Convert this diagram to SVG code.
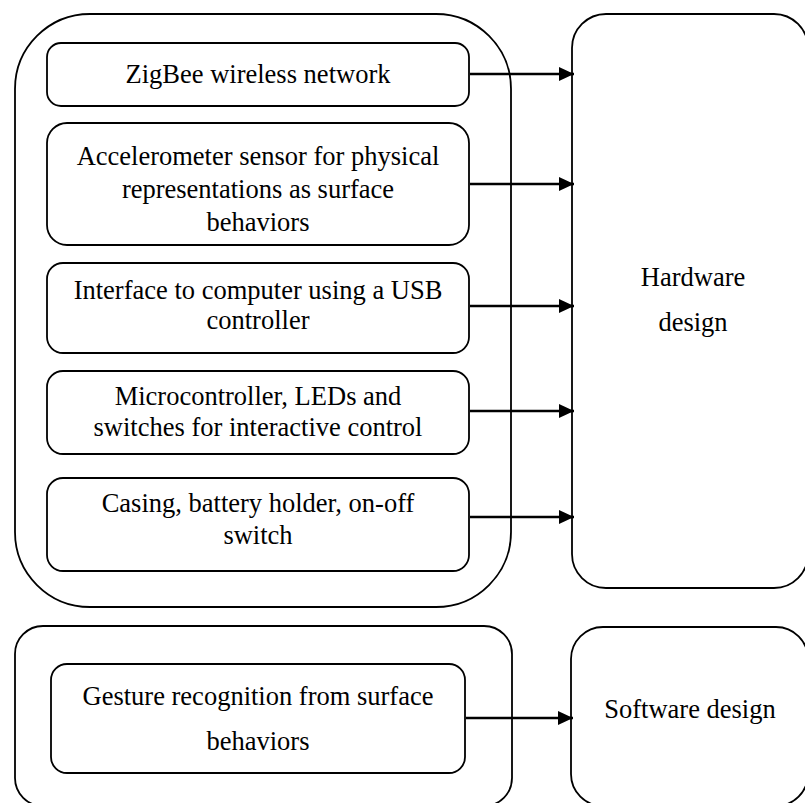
<svg xmlns="http://www.w3.org/2000/svg" width="805" height="803" viewBox="0 0 805 803">
  <style>
    .frame { fill: none; stroke: #000; stroke-width: 1.8; }
    .box { fill: #fff; stroke: #000; stroke-width: 1.8; }
    .label { font-family: "Liberation Serif", "Times New Roman", serif; font-size: 26.5px; fill: #000; text-anchor: middle; }
    .link { stroke: #000; stroke-width: 2.6; fill: none; marker-end: url(#head); }
  </style>
  <defs>
    <marker id="head" markerUnits="userSpaceOnUse" markerWidth="16" markerHeight="16" viewBox="0 0 16 16" refX="15" refY="8" orient="auto">
      <path d="M0,1 L15,8 L0,15 Z" fill="#000"/>
    </marker>
  </defs>

  <!-- outer groupings -->
  <g id="hardware-group">
    <rect class="frame" x="15" y="14" width="496" height="593" rx="75" ry="75"/>
  </g>
  <g id="software-group">
    <rect class="frame" x="15" y="626" width="497" height="180" rx="28" ry="28"/>
  </g>

  <!-- hardware components -->
  <g id="zigbee">
    <rect class="box" x="47" y="43" width="422" height="63" rx="14"/>
    <text class="label" x="258" y="83">ZigBee wireless network</text>
  </g>
  <g id="accelerometer">
    <rect class="box" x="47" y="123" width="422" height="122" rx="20"/>
    <text class="label" x="258" y="165">Accelerometer sensor for physical</text>
    <text class="label" x="258" y="198">representations as surface</text>
    <text class="label" x="258" y="231">behaviors</text>
  </g>
  <g id="usb-interface">
    <rect class="box" x="47" y="263" width="422" height="90" rx="16"/>
    <text class="label" x="258" y="299">Interface to computer using a USB</text>
    <text class="label" x="258" y="329">controller</text>
  </g>
  <g id="microcontroller">
    <rect class="box" x="47" y="371" width="422" height="83" rx="16"/>
    <text class="label" x="258" y="405">Microcontroller, LEDs and</text>
    <text class="label" x="258" y="436">switches for interactive control</text>
  </g>
  <g id="casing">
    <rect class="box" x="47" y="478" width="422" height="93" rx="16"/>
    <text class="label" x="258" y="512">Casing, battery holder, on-off</text>
    <text class="label" x="258" y="544">switch</text>
  </g>

  <!-- software component -->
  <g id="gesture">
    <rect class="box" x="51" y="664" width="414" height="109" rx="16"/>
    <text class="label" x="258" y="705">Gesture recognition from surface</text>
    <text class="label" x="258" y="750">behaviors</text>
  </g>

  <!-- design targets -->
  <g id="hardware-design">
    <rect class="box" x="572" y="14" width="236" height="574" rx="34"/>
    <text class="label" x="693" y="286">Hardware</text>
    <text class="label" x="693" y="331">design</text>
  </g>
  <g id="software-design">
    <rect class="box" x="571" y="627" width="237" height="179" rx="32"/>
    <text class="label" x="690" y="718">Software design</text>
  </g>

  <!-- connectors -->
  <g id="connectors">
    <line class="link" x1="470" y1="74" x2="574" y2="74"/>
    <line class="link" x1="470" y1="184" x2="574" y2="184"/>
    <line class="link" x1="470" y1="306" x2="574" y2="306"/>
    <line class="link" x1="470" y1="411" x2="574" y2="411"/>
    <line class="link" x1="470" y1="517" x2="574" y2="517"/>
    <line class="link" x1="466" y1="718" x2="573" y2="718"/>
  </g>
</svg>
